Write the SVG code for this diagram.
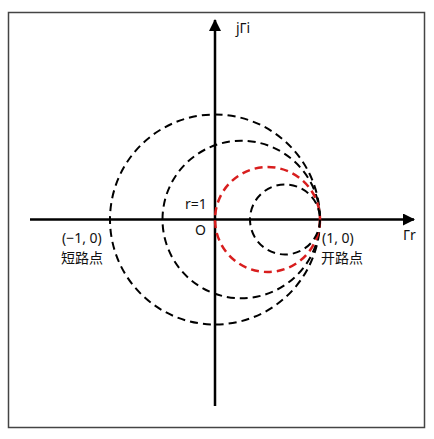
<svg xmlns="http://www.w3.org/2000/svg" width="434" height="439" viewBox="0 0 434 439">
<defs>
<marker id="arr" markerWidth="12" markerHeight="12" refX="11" refY="6" orient="auto" markerUnits="userSpaceOnUse">
<path d="M0,0 L12,6 L0,12 z" fill="#000"/>
</marker>
<style>
.c{fill:none;stroke:#000;stroke-width:2;stroke-dasharray:8 5}
.red{stroke:#d81e1e;stroke-width:2.5}
.ax{stroke:#000;stroke-width:2.5;fill:none}
text{font-family:"Noto Sans","Noto Sans CJK SC",sans-serif;font-size:14px;fill:#111}
</style>
</defs>
<rect x="8.5" y="12.5" width="416" height="415" fill="#fff" stroke="#444" stroke-width="1.5"/>
<g id="connectors">
<line class="ax" x1="30" y1="219.5" x2="414" y2="219.5" marker-end="url(#arr)"/>
<line class="ax" x1="215" y1="406" x2="215" y2="20" marker-end="url(#arr)"/>
</g>
<g id="circle-r0"><circle class="c" cx="215" cy="219.5" r="105"/></g>
<g id="circle-r033"><circle class="c" cx="241.25" cy="219.5" r="78.75"/></g>
<g id="circle-r1"><circle class="c red" cx="267.5" cy="219.5" r="52.5"/></g>
<g id="circle-r2"><circle class="c" cx="285" cy="219.5" r="35"/></g>
<g id="labels">
<text x="236" y="33">jΓi</text>
<text x="403" y="240">Γr</text>
<text x="185" y="209">r=1</text>
<text x="195" y="235">O</text>
<text x="62" y="243">(−1, 0)</text>
<text x="61" y="263">短路点</text>
<text x="322" y="243">(1, 0)</text>
<text x="321" y="263">开路点</text>
</g>
</svg>
